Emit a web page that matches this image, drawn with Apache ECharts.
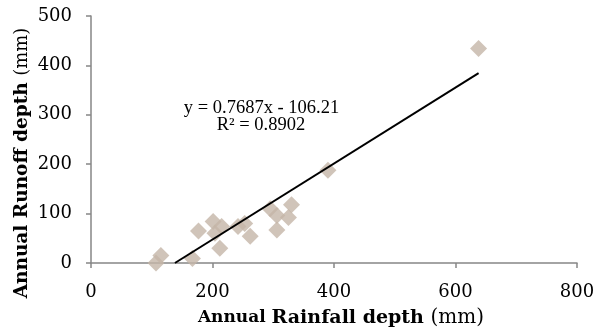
<!DOCTYPE html>
<html>
<head>
<meta charset="utf-8">
<script src="https://cdn.jsdelivr.net/npm/echarts@6/dist/echarts.min.js"></script>
<style>html,body{margin:0;padding:0;background:#fff}#c{width:613px;height:333px}</style>
</head>
<body>
<div id="c"></div>
<script>
var rainfall = [107, 115, 167, 177, 201, 215, 204, 212, 242, 253, 262, 295, 306, 325, 330, 306, 390, 638];
var runoff   = [0,   15,  9,   65,  84,  74,  60,  30,  74,  80,  54,  110, 96,  92,  118, 67,  188, 434];
var xTicks = [0, 200, 400, 600, 800];
var yTicks = [0, 100, 200, 300, 400, 500];
var slope = 0.7687, intercept = -106.21, r2 = 0.8902;

var pts = rainfall.map(function (x, i) { return [x, runoff[i]]; });
var x0 = -intercept / slope;
var x1 = Math.max.apply(null, rainfall);
var trend = [[x0, slope * x0 + intercept], [x1, slope * x1 + intercept]];

var serif = 'DejaVu Serif';
var chart = echarts.init(document.getElementById('c'));
chart.setOption({
  animation: false,
  backgroundColor: '#fff',
  grid: { left: 91, right: 36, top: 16, bottom: 66, containLabel: false },
  xAxis: {
    type: 'value', min: xTicks[0], max: xTicks[xTicks.length - 1], interval: 200,
    splitLine: { show: false },
    axisLine: { lineStyle: { color: '#868686', width: 1.5 } },
    axisTick: { show: true, length: 5, lineStyle: { color: '#868686', width: 1.5 } },
    axisLabel: { color: '#000', fontFamily: serif, fontSize: 18, margin: 20 },
    name: '{a|Annual }{b|Rainfall depth }{c|(mm)}',
    nameLocation: 'middle', nameGap: 45,
    nameTextStyle: {
      padding: [0, 0, 0, 14],
      rich: {
        a: { fontFamily: serif, fontWeight: 'bold', fontSize: 17, color: '#000' },
        b: { fontFamily: serif, fontWeight: 'bold', fontSize: 19, color: '#000' },
        c: { fontFamily: serif, fontSize: 20, color: '#000' }
      }
    }
  },
  yAxis: {
    type: 'value', min: yTicks[0], max: yTicks[yTicks.length - 1], interval: 100,
    splitLine: { show: false },
    axisLine: { lineStyle: { color: '#868686', width: 1.5 } },
    axisTick: { show: true, length: 5, lineStyle: { color: '#868686', width: 1.5 } },
    axisLabel: { color: '#000', fontFamily: serif, fontSize: 18, margin: 19 }
  },
  graphic: [
    {
      type: 'text', x: 22, y: 163, rotation: Math.PI / 2,
      style: {
        text: '{b|Annual Runoff depth }{c|(mm)}',
        align: 'center', verticalAlign: 'middle',
        rich: {
          b: { fontFamily: serif, fontWeight: 'bold', fontSize: 18.5, fill: '#000' },
          c: { fontFamily: serif, fontSize: 18, fill: '#000' }
        }
      }
    },
    {
      type: 'text', x: 261.5, y: 108,
      style: { text: 'y = ' + slope + 'x - ' + (-intercept), align: 'center', verticalAlign: 'middle', fontFamily: 'Liberation Serif', fontSize: 18.5, fill: '#000' }
    },
    {
      type: 'text', x: 261, y: 125,
      style: { text: 'R\u00B2 = ' + r2, align: 'center', verticalAlign: 'middle', fontFamily: 'Liberation Serif', fontSize: 18.5, fill: '#000' }
    }
  ],
  series: [
    {
      type: 'scatter', data: pts, symbol: 'diamond', symbolSize: 17,
      itemStyle: { color: '#c4b5a8' }, z: 2
    },
    {
      type: 'line', data: trend, symbol: 'none',
      lineStyle: { color: '#000', width: 2 }, z: 3
    }
  ]
});
</script>
</body>
</html>
